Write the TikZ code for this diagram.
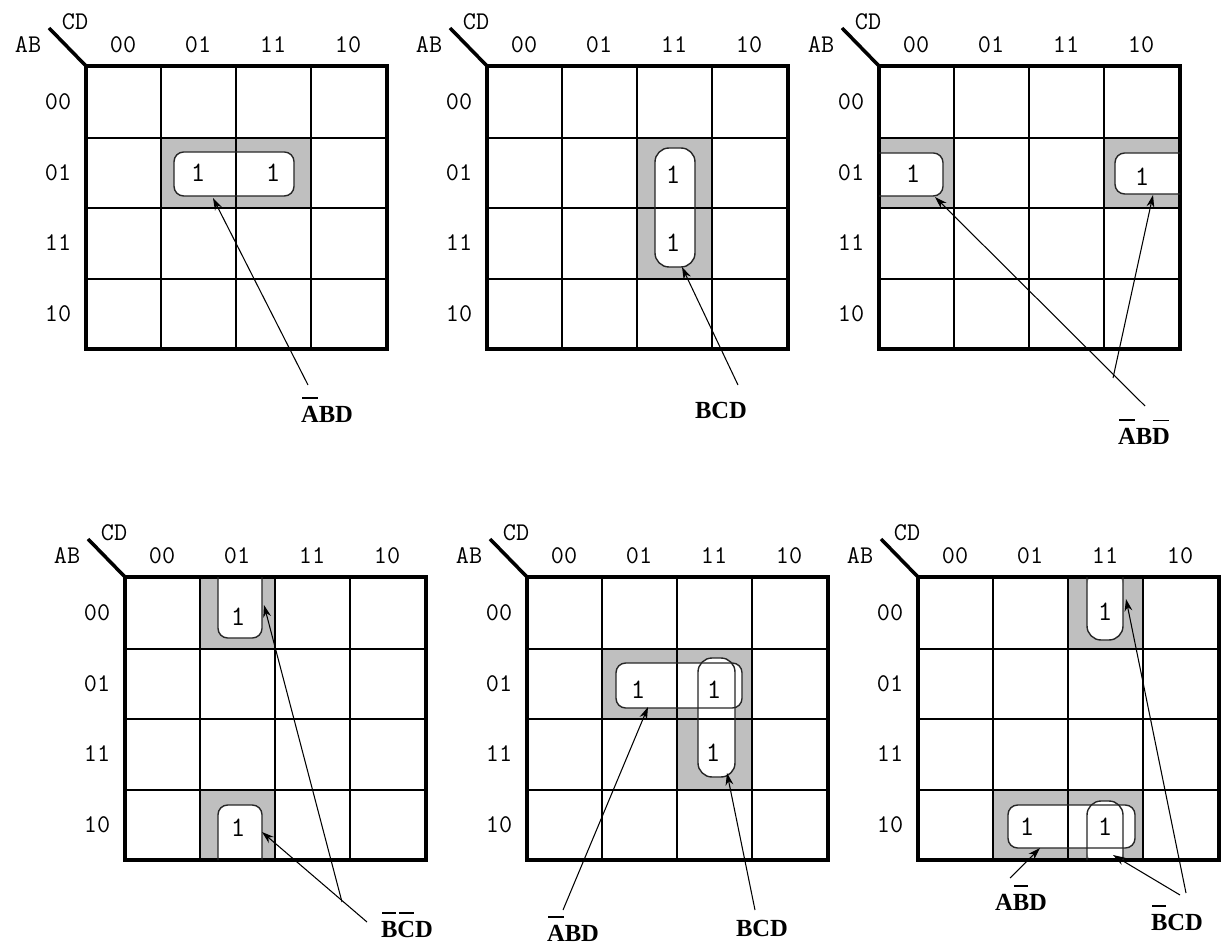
\documentclass[tikz,border=0pt]{standalone}
\usepackage{fontspec}
\setmainfont{Liberation Serif}
\usepackage{tikz}
\usetikzlibrary{arrows.meta}
\newcommand\cmpl[1]{\setbox0\hbox{#1}\rlap{\kern0.06\wd0\rule[1.45\ht0]{0.88\wd0}{1pt}}\box0}

\begin{document}
\begin{tikzpicture}[x=0.02cm,y=-0.02cm,
        cell/.style={line width=0.9pt},
        frame/.style={line width=2pt},
        grp/.style={fill=black!25},
        hole/.style={fill=white, rounded corners=5.5pt},
        ring/.style={draw=black!85, line width=0.8pt, rounded corners=5.5pt},
        one/.style={font=\ttfamily\fontsize{16}{16}\selectfont},
        bit/.style={font=\ttfamily\fontsize{14.5}{15}\selectfont},
        term/.style={font=\bfseries\fontsize{14}{16}\selectfont},
        pointer/.style={line width=0.6pt, -{Stealth[length=7pt,width=4.5pt]}},
        kmap/.pic={
          \draw[cell] (75,0) -- (75,283) (150,0) -- (150,283) (225,0) -- (225,283)
            (0,72) -- (301,72) (0,142) -- (301,142) (0,213) -- (301,213);
          \draw[frame] (0,0) rectangle (301,283);
          \draw[frame] (-37,-38) -- (0,0);
          \node[bit] (-ab) at (-58,-21) {AB};
          \node[bit] (-cd) at (-11,-44) {CD};
          \foreach \bits [count=\idx from 0] in {00,01,11,10} {
            \node[bit] (-c\bits) at (37+75*\idx,-21) {\bits};
            \node[bit] (-r\bits) at (-28,36+70.5*\idx) {\bits};
          }
        }]
  \useasboundingbox (0,0) rectangle (1223,945);

  % top row
  \begin{scope}[shift={(86,66)}]
    \fill[grp] (75,72) rectangle (225,142);
    \path[hole] (88,86) rectangle (208,130);
    \pic (m1) at (0,0) {kmap};
    \draw[ring] (88,86) rectangle (208,130);
    \node[one] (m1a) at (112,107) {1};
    \node[one] (m1b) at (187,107) {1};
    \coordinate (m1tip) at (127,132);
  \end{scope}
  \node[term] (t1) at (327,410) {\cmpl{A}BD};
  \coordinate (t1tail) at (308,385);
  \draw[pointer] (t1tail) -- (m1tip);

  \begin{scope}[shift={(487,66)}]
    \fill[grp] (150,72) rectangle (225,213);
    \path[hole, rounded corners=8pt] (168,82) rectangle (208,201);
    \pic (m2) at (0,0) {kmap};
    \draw[ring, rounded corners=8pt] (168,82) rectangle (208,201);
    \node[one] (m2a) at (186,109) {1};
    \node[one] (m2b) at (186,177) {1};
    \coordinate (m2tip) at (195,201);
  \end{scope}
  \node[term] (t2) at (721,410) {BCD};
  \coordinate (t2tail) at (738,385);
  \draw[pointer] (t2tail) -- (m2tip);

  \begin{scope}[shift={(879,66)}]
    \fill[grp] (0,72) rectangle (75,142) (225,72) rectangle (301,142);
    \path[hole] (-5,87) -- (64,87) -- (64,130) -- (-5,130) -- cycle
      (306,87) -- (236,87) -- (236,128) -- (306,128) -- cycle;
    \pic (m3) at (0,0) {kmap};
    \draw[ring] (0,87) -- (64,87) -- (64,130) -- (0,130)
      (301,87) -- (236,87) -- (236,128) -- (301,128);
    \node[one] (m3a) at (34,108) {1};
    \node[one] (m3b) at (263,111) {1};
    \coordinate (m3tipl) at (56,131);
    \coordinate (m3tipr) at (274,129);
  \end{scope}
  \node[term] (t3) at (1144,432) {\cmpl{A}B\cmpl{D}};
  \coordinate (t3taill) at (1145,406);
  \coordinate (t3tailr) at (1113,378);
  \draw[pointer] (t3taill) -- (m3tipl);
  \draw[pointer] (t3tailr) -- (m3tipr);

  % bottom row
  \begin{scope}[shift={(125,577)}]
    \fill[grp] (75,0) rectangle (150,72) (75,213) rectangle (150,283);
    \path[hole] (93,-5) -- (93,61) -- (137,61) -- (137,-5) -- cycle
      (93,288) -- (93,228) -- (137,228) -- (137,288) -- cycle;
    \pic (m4) at (0,0) {kmap};
    \draw[ring] (93,0) -- (93,61) -- (137,61) -- (137,0)
      (93,283) -- (93,228) -- (137,228) -- (137,283);
    \node[one] (m4a) at (113,40) {1};
    \node[one] (m4b) at (113,251) {1};
    \coordinate (m4tipt) at (139,28);
    \coordinate (m4tipb) at (137,255);
  \end{scope}
  \node[term] (t4) at (407,925) {\cmpl{B}\cmpl{C}D};
  \coordinate (t4tailt) at (342,902);
  \coordinate (t4tailb) at (367,922);
  \draw[pointer] (t4tailt) -- (m4tipt);
  \draw[pointer] (t4tailb) -- (m4tipb);

  \begin{scope}[shift={(527,577)}]
    \fill[grp] (75,72) rectangle (225,142) (150,142) rectangle (225,213);
    \path[hole] (89,86) rectangle (215,131);
    \path[hole, rounded corners=8pt] (171,81) rectangle (208,200);
    \pic (m5) at (0,0) {kmap};
    \draw[ring] (89,86) rectangle (215,131);
    \draw[ring, rounded corners=8pt] (171,81) rectangle (208,200);
    \node[one] (m5a) at (111,113) {1};
    \node[one] (m5b) at (187,113) {1};
    \node[one] (m5c) at (186,176) {1};
    \coordinate (m5tipl) at (121,130);
    \coordinate (m5tipr) at (200,196);
  \end{scope}
  \node[term] (t5l) at (573,929) {\cmpl{A}BD};
  \node[term] (t5r) at (762,928) {BCD};
  \coordinate (t5taill) at (563,910);
  \coordinate (t5tailr) at (755,910);
  \draw[pointer] (t5taill) -- (m5tipl);
  \draw[pointer] (t5tailr) -- (m5tipr);

  \begin{scope}[shift={(918,577)}]
    \fill[grp] (150,0) rectangle (225,72) (75,213) rectangle (225,283);
    \path[hole] (90,228) rectangle (217,271);
    \path[hole, rounded corners=8pt] (169,288) -- (169,224) -- (205,224) -- (205,288) -- cycle
      (169,-5) -- (169,63) -- (205,63) -- (205,-5) -- cycle;
    \pic (m6) at (0,0) {kmap};
    \draw[ring] (90,228) rectangle (217,271);
    \draw[ring, rounded corners=8pt] (169,283) -- (169,224) -- (205,224) -- (205,283)
      (169,0) -- (169,63) -- (205,63) -- (205,0);
    \node[one] (m6a) at (187,35) {1};
    \node[one] (m6b) at (109,250) {1};
    \node[one] (m6c) at (187,250) {1};
    \coordinate (m6tipl) at (122,271);
    \coordinate (m6tipb) at (195,278);
    \coordinate (m6tipt) at (208,22);
  \end{scope}
  \node[term] (t6l) at (1021,898) {A\cmpl{B}D};
  \node[term] (t6r) at (1177,918) {\cmpl{B}CD};
  \coordinate (t6taill) at (1010,878);
  \coordinate (t6tailb) at (1180,895);
  \coordinate (t6tailt) at (1186,893);
  \draw[pointer] (t6taill) -- (m6tipl);
  \draw[pointer] (t6tailb) -- (m6tipb);
  \draw[pointer] (t6tailt) -- (m6tipt);
\end{tikzpicture}
\end{document}
